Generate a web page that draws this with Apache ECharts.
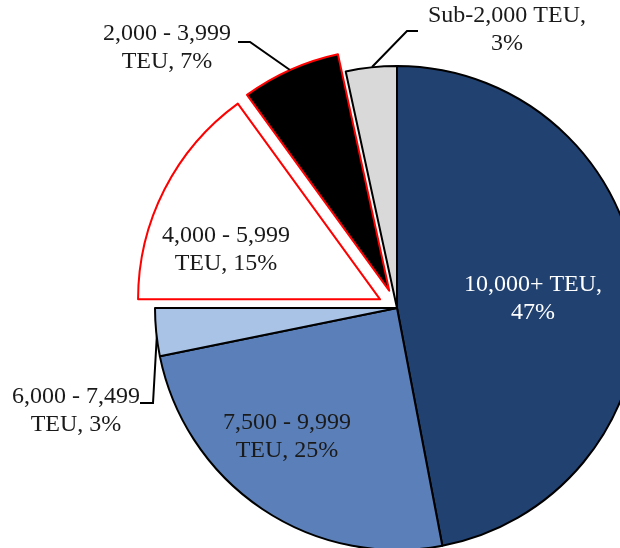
<!DOCTYPE html>
<html>
<head>
<meta charset="utf-8">
<script src="https://cdn.jsdelivr.net/npm/echarts@6/dist/echarts.min.js"></script>
<style>
  html, body { margin: 0; padding: 0; background: #fff; }
  #chart { width: 620px; height: 548px; }
</style>
</head>
<body>
<div id="chart"></div>
<script>
// slice names, clockwise from 12 o'clock
const names = [
  "10,000+ TEU",
  "7,500 - 9,999 TEU",
  "6,000 - 7,499 TEU",
  "4,000 - 5,999 TEU",
  "2,000 - 3,999 TEU",
  "Sub-2,000 TEU",
];
// share of fleet capacity (%)
const shares = [47.0, 24.8, 3.2, 15.0, 6.6, 3.4];
// label text as shown on the chart
const labelTexts = [
  "10,000+ TEU,\n47%",
  "7,500 - 9,999\nTEU, 25%",
  "6,000 - 7,499\nTEU, 3%",
  "4,000 - 5,999\nTEU, 15%",
  "2,000 - 3,999\nTEU, 7%",
  "Sub-2,000 TEU,\n3%",
];
const colors = ["#214171", "#5b80b9", "#a9c3e7", "#ffffff", "#000000", "#d9d9d9"];
const exploded = [false, false, false, true, true, false];

const CX = 397, CY = 308, R = 242, EXPLODE = 19;

// label anchor points + leader lines
const labelPos = [
  { x: 533, y: 299 },
  { x: 287, y: 437 },
  { x: 76, y: 411, line: [[157, 333], [153, 403], [140, 403]] },
  { x: 226, y: 250 },
  { x: 167, y: 48, line: [[290, 70], [250, 42], [238, 42]] },
  { x: 507, y: 30, line: [[372, 67], [407, 31], [418, 31]] },
];

let myChart = echarts.init(document.getElementById("chart"));

const total = shares.reduce((a, b) => a + b, 0);

function pieData(only) {
  return names.map((n, i) => {
    let visible = only == null ? !exploded[i] : only == i;
    return {
      name: n,
      value: shares[i],
      itemStyle: visible
        ? {
          color: colors[i],
          borderColor: exploded[i] ? "#ff0000" : "#000000",
          borderWidth: 2,
        }
        : { color: "rgba(0,0,0,0)", borderWidth: 0 },
      label: {
        show: only == null,
        color: i == 0 ? "#ffffff" : "#1a1a1a",
        position: labelPos[i].line ? "outside" : "inside",
      },
      labelLine: { show: only == null && !!labelPos[i].line },
    };
  });
}

// pulled-out slices get their own pie, moved along the slice's mid angle
function explodedCenter(idx) {
  let before = 0;
  for (let i = 0; i < idx; i++) before += shares[i];
  let mid = ((before + shares[idx] / 2) / total) * 2 * Math.PI;
  return [CX + EXPLODE * Math.sin(mid), CY - EXPLODE * Math.cos(mid)];
}

let baseSeries = {
  type: "pie",
  center: [CX, CY],
  radius: R,
  startAngle: 90,
  clockwise: true,
  avoidLabelOverlap: false,
  silent: true,
  label: {
    show: true,
    fontFamily: "Liberation Serif",
    fontSize: 24,
    lineHeight: 28,
    align: "center",
    formatter: (p) => labelTexts[p.dataIndex],
  },
  labelLine: {
    show: true,
    lineStyle: { color: "#000", width: 2 },
  },
  labelLayout: (p) => {
    let lp = labelPos[p.dataIndex];
    let res = { x: lp.x, y: lp.y, align: "center", verticalAlign: "middle" };
    if (lp.line) res.labelLinePoints = lp.line;
    return res;
  },
  emphasis: { disabled: true },
  data: pieData(null),
};

let series = [baseSeries];
exploded.forEach((e, i) => {
  if (!e) return;
  series.push({
    type: "pie",
    center: explodedCenter(i),
    radius: R,
    startAngle: 90,
    clockwise: true,
    silent: true,
    label: { show: false },
    labelLine: { show: false },
    emphasis: { disabled: true },
    z: 1,
    data: pieData(i),
  });
});

myChart.setOption({ animation: false, series: series });
</script>
</body>
</html>
